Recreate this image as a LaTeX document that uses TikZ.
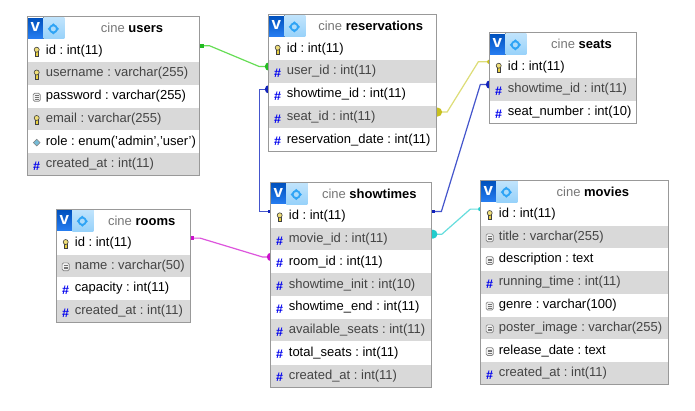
\documentclass[tikz,border=0pt]{standalone}
\usepackage{fontspec}
\setmainfont{Liberation Sans}
\frenchspacing
\usetikzlibrary{calc,backgrounds}
\definecolor{rowgray}{HTML}{D9D9D9}
\definecolor{bordergray}{HTML}{999999}
\definecolor{shadedtext}{HTML}{444444}
\definecolor{titlegray}{HTML}{777777}
\definecolor{hashblue}{HTML}{0000EE}
\definecolor{logoblue}{HTML}{0066EE}
\definecolor{gearblue}{HTML}{2FA4F5}
\definecolor{keyyellow}{HTML}{E8D040}
\definecolor{greenL}{HTML}{66DD55}\definecolor{greenD}{HTML}{22BB22}
\definecolor{blueL}{HTML}{4455CC}\definecolor{blueD}{HTML}{1122BB}
\definecolor{yellowL}{HTML}{DDDD77}\definecolor{yellowD}{HTML}{C8C020}
\definecolor{magentaL}{HTML}{DD55DD}\definecolor{magentaD}{HTML}{CC11CC}
\definecolor{cyanL}{HTML}{66DDDD}\definecolor{cyanD}{HTML}{22CCCC}
\tikzset{
  rowbase/.style={rectangle,inner sep=0pt,minimum height=22.35pt,anchor=north west,font=\fontsize{13}{15}\selectfont},
  rowwhite/.style={rowbase,fill=white,text=black},
  rowshade/.style={rowbase,fill=rowgray,text=shadedtext},
  headbox/.style={rowbase,fill=white,anchor=north west},
  tableborder/.style={draw=bordergray,line width=0.9pt},
  hashmark/.style={inner sep=0pt,text=hashblue,font=\fontsize{12.5}{13}\selectfont\bfseries},
  reflink/.style={line width=1.2pt},
}
\newcount\rowno
\newcommand\dbw{0}
\newcommand\dbprev{}
\newcommand\dbname{}
\newcommand\dbhead[5]{% name,x,y,width,title
  \gdef\dbname{#1}\gdef\dbw{#4}\global\rowno=0
  \node[headbox,minimum width=#4pt] (#1-head) at (#2,#3)
    {\makebox[#4pt][l]{\makebox[37pt]{}\makebox[\dimexpr#4pt-37pt\relax]{\textcolor{titlegray}{cine} \textbf{#5}}}};
  \gdef\dbprev{#1-head}
  \fill[top color=logoblue!80!black,bottom color=logoblue!85!white] ($(#1-head.north west)+(0.5,1.4)$) rectangle ($(#1-head.north west)+(16,21.6)$);
  \node[inner sep=0pt,text=white,font=\fontsize{17}{17}\selectfont\bfseries] at ($(#1-head.north west)+(8,10.8)$) {v};
  \fill[top color=white!70!gearblue,bottom color=gearblue!50!white] ($(#1-head.north west)+(16,0.6)$) rectangle ($(#1-head.north west)+(37,22.2)$);
  \fill[gearblue] ($(#1-head.north west)+(26,6.6)$) -- ($(#1-head.north west)+(31.6,12.2)$) -- ($(#1-head.north west)+(26,17.8)$) -- ($(#1-head.north west)+(20.4,12.2)$) -- cycle;
  \draw[gearblue,fill=white!60!gearblue,line width=1.7pt] ($(#1-head.north west)+(26,12.2)$) circle (3.6pt);
}
\newcommand\dbrow[3]{% key,icon,text
  \global\advance\rowno by 1
  \ifodd\rowno\def\rowstyle{rowwhite}\else\def\rowstyle{rowshade}\fi
  \node[\rowstyle,minimum width=\dbw pt] (\dbname-#1) at (\dbprev.south west)
    {\makebox[\dbw pt][l]{\hspace{18.4pt}\raisebox{-0.9pt}{#3}}};
  \coordinate (ic) at ($(\dbname-#1.west)+(9.4,0.8)$);
  \csname icon#2\endcsname
  \xdef\dbprev{\dbname-#1}
}
\newcommand\dbclose{\draw[tableborder] (\dbname-head.north west) rectangle (\dbprev.south east);}
\newcommand\iconkey{%
  \draw[black!75,fill=keyyellow,line width=0.5pt] ($(ic)+(-1.6,-1)$) rectangle ($(ic)+(1.6,4.4)$);
  \draw[black!75,fill=keyyellow!70!white,line width=0.6pt] ($(ic)+(0,-1.9)$) circle (2.5pt);
}
\newcommand\iconhash{\node[hashmark] at ($(ic)+(0,1)$) {\#};}
\newcommand\iconblob{%
  \draw[black!50,fill=black!5,rounded corners=1.5pt,line width=0.7pt] ($(ic)+(-3.6,-3.8)$) rectangle ($(ic)+(3.6,4.1)$);
  \draw[black!55,line width=0.5pt] ($(ic)+(-1.9,-1.4)$) -- ($(ic)+(1.9,-1.4)$) ($(ic)+(-1.9,0.3)$) -- ($(ic)+(1.9,0.3)$) ($(ic)+(-1.9,2)$) -- ($(ic)+(1.9,2)$);
}
\newcommand\iconenum{%
  \draw[black!50,fill=cyan!55!white!85!black,line width=0.5pt] ($(ic)+(0,-3.4)$) -- ($(ic)+(3.4,0)$) -- ($(ic)+(0,3.4)$) -- ($(ic)+(-3.4,0)$) -- cycle;
}
\begin{document}
\begin{tikzpicture}[x=1pt,y=-1pt]
\useasboundingbox (0,0) rectangle (695,411);

% users
\dbhead{users}{27.3}{16.7}{172}{users}
\dbrow{id}{key}{id : int(11)}
\dbrow{username}{key}{username : varchar(255)}
\dbrow{password}{blob}{password : varchar(255)}
\dbrow{email}{key}{email : varchar(255)}
\dbrow{role}{enum}{role : enum('admin','user')}
\dbrow{created}{hash}{created\_at : int(11)}
\dbclose

% reservations
\dbhead{res}{268.3}{14.7}{167.4}{reservations}
\dbrow{id}{key}{id : int(11)}
\dbrow{user}{hash}{user\_id : int(11)}
\dbrow{showtime}{hash}{showtime\_id : int(11)}
\dbrow{seat}{hash}{seat\_id : int(11)}
\dbrow{date}{hash}{reservation\_date : int(11)}
\dbclose

% seats
\dbhead{seats}{489.3}{32.7}{147}{seats}
\dbrow{id}{key}{id : int(11)}
\dbrow{showtime}{hash}{showtime\_id : int(11)}
\dbrow{number}{hash}{seat\_number : int(10)}
\dbclose

% rooms
\dbhead{rooms}{56.3}{209}{133.4}{rooms}
\dbrow{id}{key}{id : int(11)}
\dbrow{name}{blob}{name : varchar(50)}
\dbrow{capacity}{hash}{capacity : int(11)}
\dbrow{created}{hash}{created\_at : int(11)}
\dbclose

% showtimes
\dbhead{show}{270.3}{182.3}{160.7}{showtimes}
\dbrow{id}{key}{id : int(11)}
\dbrow{movie}{hash}{movie\_id : int(11)}
\dbrow{room}{hash}{room\_id : int(11)}
\dbrow{init}{hash}{showtime\_init : int(10)}
\dbrow{end}{hash}{showtime\_end : int(11)}
\dbrow{avail}{hash}{available\_seats : int(11)}
\dbrow{total}{hash}{total\_seats : int(11)}
\dbrow{created}{hash}{created\_at : int(11)}
\dbclose

% movies
\dbhead{movies}{480.3}{180}{187.7}{movies}
\dbrow{id}{key}{id : int(11)}
\dbrow{title}{blob}{title : varchar(255)}
\dbrow{desc}{blob}{description : text}
\dbrow{running}{hash}{running\_time : int(11)}
\dbrow{genre}{blob}{genre : varchar(100)}
\dbrow{poster}{blob}{poster\_image : varchar(255)}
\dbrow{release}{blob}{release\_date : text}
\dbrow{created}{hash}{created\_at : int(11)}
\dbclose

% anchors of links, 5 px above the row centre
\foreach \r/\s in {users-id/east,res-user/west,res-showtime/west,res-seat/east,seats-id/west,seats-showtime/west,show-id/west,show-movie/east,show-room/west,rooms-id/east,movies-id/west}
  {\coordinate (p-\r) at ($(\r.\s)+(0,-5)$);}
\coordinate (p-show-idE) at ($(show-id.east)+(0,-5)$);

\begin{pgfonlayer}{background}
  \fill[white] (0,0) rectangle (695,411);
  \draw[reflink,greenL] (p-users-id) -- ++(10,0) -- ($(p-res-user)+(-9,0)$) -- (p-res-user);
  \draw[reflink,blueL] (p-show-id) -- ++(-10.5,0) |- (p-res-showtime);
  \draw[reflink,blueL] (p-show-idE) -- ++(10,0) -- ($(p-seats-showtime)+(-9,0)$) -- (p-seats-showtime);
  \draw[reflink,yellowL] (p-res-seat) -- ++(11,0) -- ($(p-seats-id)+(-11,0)$) -- (p-seats-id);
  \draw[reflink,cyanL] (p-show-movie) -- ++(10.5,0) -- ($(p-movies-id)+(-10,0)$) -- (p-movies-id);
  \draw[reflink,magentaL] (p-rooms-id) -- ++(10,0) -- ($(p-show-room)+(-8,0)$) -- (p-show-room);
  \fill[greenD] ($(p-res-user)+(0.8,0)$) circle (4.3pt);
  \fill[blueD] ($(p-res-showtime)+(0.8,0)$) circle (4.3pt);
  \fill[blueD] ($(p-seats-showtime)+(0.8,0)$) circle (4.3pt);
  \fill[magentaD] ($(p-show-room)+(0.8,0)$) circle (4.3pt);
  \fill[yellowD] ($(p-res-seat)+(1.5,0)$) circle (4.5pt);
  \fill[cyanD] ($(p-show-movie)+(1.5,0)$) circle (4.5pt);
  \fill[yellowD] (p-seats-id) circle (2.2pt);
  \fill[cyanD] (p-movies-id) circle (2.2pt);
\end{pgfonlayer}
% one-ends: small squares
\fill[greenD] ($(p-users-id)+(0.6,-1.8)$) rectangle ($(p-users-id)+(4,1.8)$);
\fill[magentaD] ($(p-rooms-id)+(0.6,-1.8)$) rectangle ($(p-rooms-id)+(4,1.8)$);
\fill[blueD] ($(p-show-idE)+(0.6,-1.8)$) rectangle ($(p-show-idE)+(4,1.8)$);
\fill[blueD] ($(p-show-id)+(-2.5,-1.2)$) rectangle ($(p-show-id)+(-0.4,1.2)$);
\end{tikzpicture}
\end{document}
